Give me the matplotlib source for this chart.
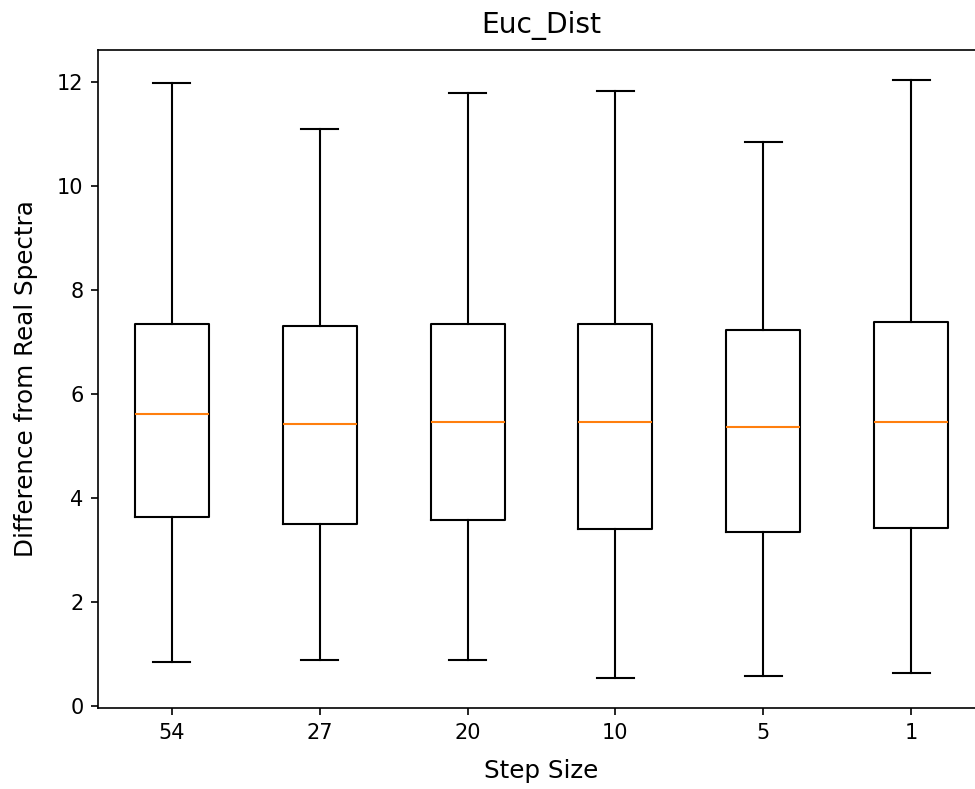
import matplotlib
matplotlib.use('Agg')
import matplotlib.pyplot as plt

step_sizes = ['54', '27', '20', '10', '5', '1']
whislo = [0.84, 0.88, 0.88, 0.54, 0.58, 0.63]
q1 = [3.64, 3.51, 3.58, 3.41, 3.34, 3.43]
med = [5.62, 5.42, 5.46, 5.46, 5.37, 5.46]
q3 = [7.34, 7.30, 7.34, 7.34, 7.23, 7.38]
whishi = [11.97, 11.10, 11.79, 11.83, 10.85, 12.04]


def build_stats():
    stats = []
    for i, lab in enumerate(step_sizes):
        stats.append({'label': lab, 'whislo': whislo[i], 'q1': q1[i], 'med': med[i],
                      'q3': q3[i], 'whishi': whishi[i], 'fliers': []})
    return stats


def main():
    fig = plt.figure(figsize=(6.5, 5.26), dpi=150)
    ax = fig.add_axes([0.1005, 0.1027, 0.9097, 0.834])
    ax.bxp(build_stats(), showfliers=False)
    ax.set_title('Euc_Dist', fontsize=13.5, pad=8)
    ax.set_xlabel('Step Size', fontsize=11.8, labelpad=8)
    ax.set_ylabel('Difference from Real Spectra', fontsize=11.8, labelpad=9)
    fig.savefig('out.png', dpi=150)
    plt.close(fig)


if __name__ == '__main__':
    main()
